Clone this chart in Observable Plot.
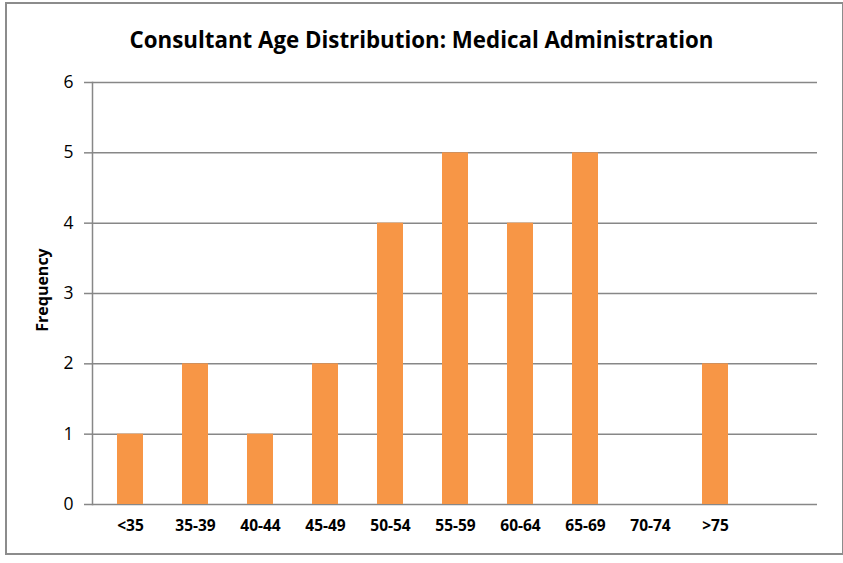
<!DOCTYPE html>
<html>
<head>
<meta charset="utf-8">
<script src="https://cdn.jsdelivr.net/npm/d3@7"></script>
<script src="https://cdn.jsdelivr.net/npm/@observablehq/plot@0.6"></script>
<style>
  html, body { margin: 0; padding: 0; background: #fff; }
  #wrap { position: relative; width: 843px; height: 563px; overflow: hidden; font-family: "Open Sans", Lato, sans-serif; }
  #border { position: absolute; left: 5px; top: 2px; width: 835px; height: 549px; border: 2px solid #8c8c8c; box-sizing: content-box; }
  #title { position: absolute; left: 0; width: 843px; top: 25px; text-align: center; font-weight: bold; font-size: 22.3px; line-height: 1.362; color: #000; white-space: nowrap; }
  #ylabel { position: absolute; left: 42px; top: 290px; transform: translate(-50%, -50%) rotate(-90deg); font-weight: bold; font-size: 16px; color: #000; white-space: nowrap; }
  #chart { position: absolute; left: 0; top: 0; }
</style>
</head>
<body>
<div id="wrap">
  <div id="border"></div>
  <div id="chart"></div>
  <div id="title">Consultant Age Distribution: Medical Administration</div>
  <div id="ylabel">Frequency</div>
</div>
<script>
const categories = ["<35", "35-39", "40-44", "45-49", "50-54", "55-59", "60-64", "65-69", "70-74", ">75", ""];
const frequencies = [1, 2, 1, 2, 4, 5, 4, 5, 0, 2, 0];
const yTicks = [0, 1, 2, 3, 4, 5, 6];

const data = categories.map((c, i) => ({category: c, value: frequencies[i]}));

const chart = Plot.plot({
  width: 843,
  height: 563,
  marginTop: 82,
  marginBottom: 59,
  marginLeft: 92,
  marginRight: 26,
  style: { fontFamily: "'Open Sans', Lato, sans-serif", color: "#000", background: "transparent" },
  x: { domain: categories, paddingInner: 0.6, paddingOuter: 0.3, label: null },
  y: { domain: [0, 6], label: null },
  marks: [
    Plot.gridY(yTicks, { stroke: "#878787", strokeOpacity: 1, strokeWidth: 1.5 }),
    Plot.frame({ anchor: "left", stroke: "#878787", strokeWidth: 1.5 }),
    Plot.barY(data, { x: "category", y: "value", fill: "#F79646" }),
    Plot.axisY(yTicks, { tickSize: 8, tickPadding: 11, stroke: "#878787", strokeWidth: 1.5, fill: "#000",
      fontSize: 17.5, label: null, tickFormat: d3.format("d") }),
    Plot.axisX({ tickSize: 0, tickPadding: 15, fill: "#000", fontSize: 15.5, fontWeight: "bold", label: null })
  ]
});
document.getElementById("chart").appendChild(chart);
</script>
</body>
</html>
